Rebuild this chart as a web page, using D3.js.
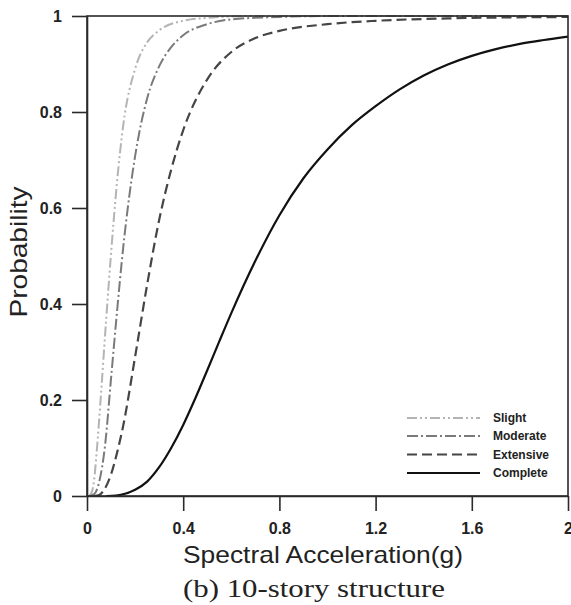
<!DOCTYPE html>
<html>
<head>
<meta charset="utf-8">
<script src="https://cdn.jsdelivr.net/npm/d3@7/dist/d3.min.js"></script>
<style>
  html, body { margin: 0; padding: 0; background: #fff; }
  svg { display: block; }
</style>
</head>
<body>
<svg id="chart" width="571" height="605"></svg>
<script>
// ---- Data ----
const seriesNames = ["Slight", "Moderate", "Extensive", "Complete"];

const slightX = [0.008, 0.02, 0.03, 0.04, 0.06, 0.08, 0.1, 0.125, 0.15, 0.2, 0.25, 0.3, 0.4, 0.5, 0.7, 2.0];
const slightP = [0, 0.008, 0.035, 0.09, 0.225, 0.37, 0.505, 0.655, 0.77, 0.89, 0.945, 0.97, 0.99, 0.996, 1, 1];

const moderateX = [0.012, 0.03, 0.05, 0.075, 0.1, 0.125, 0.15, 0.2, 0.25, 0.3, 0.35, 0.4, 0.5, 0.6, 0.8, 1.0, 2.0];
const moderateP = [0, 0.004, 0.028, 0.105, 0.245, 0.385, 0.515, 0.708, 0.828, 0.895, 0.935, 0.96, 0.983, 0.993, 0.998, 1, 1];

const extensiveX = [0.03, 0.05, 0.07, 0.1, 0.125, 0.15, 0.2, 0.25, 0.3, 0.35, 0.4, 0.5, 0.6, 0.7, 0.8, 1.0, 1.2, 1.5, 2.0];
const extensiveP = [0, 0.002, 0.012, 0.045, 0.09, 0.145, 0.29, 0.44, 0.575, 0.68, 0.762, 0.868, 0.925, 0.954, 0.969, 0.983, 0.99, 0.995, 0.998];

const completeX = [0.08, 0.12, 0.2, 0.25, 0.3, 0.35, 0.4, 0.45, 0.5, 0.55, 0.6, 0.7, 0.8, 0.9, 1.0, 1.1, 1.2, 1.3, 1.4, 1.5, 1.6, 1.7, 1.8, 1.9, 2.0];
const completeP = [0, 0.001, 0.013, 0.03, 0.06, 0.10, 0.148, 0.203, 0.262, 0.322, 0.381, 0.49, 0.585, 0.662, 0.722, 0.772, 0.812, 0.847, 0.876, 0.899, 0.917, 0.931, 0.942, 0.950, 0.957];

const xTicks = [0, 0.4, 0.8, 1.2, 1.6, 2];
const xTickLabels = ["0", "0.4", "0.8", "1.2", "1.6", "2"];
const yTicks = [0, 0.2, 0.4, 0.6, 0.8, 1];
const yTickLabels = ["0", "0.2", "0.4", "0.6", "0.8", "1"];

const xTitle = "Spectral Acceleration(g)";
const yTitle = "Probability";
const caption = "(b) 10-story structure";

// ---- Styles ----
const styles = {
  Slight:    { color: "#b4b4b4", dash: "10,3,2,3,2,3", width: 2 },
  Moderate:  { color: "#7a7a7a", dash: "11,3,2,3", width: 2 },
  Extensive: { color: "#454545", dash: "10,5", width: 2.2 },
  Complete:  { color: "#111111", dash: null, width: 2.2 }
};

const series = [
  { name: "Slight", xs: slightX, ps: slightP },
  { name: "Moderate", xs: moderateX, ps: moderateP },
  { name: "Extensive", xs: extensiveX, ps: extensiveP },
  { name: "Complete", xs: completeX, ps: completeP }
];

// ---- Layout ----
const plotL = 87, plotR = 568, plotT = 16, plotB = 496;

const svg = d3.select("#chart");
const x = d3.scaleLinear().domain([0, 2]).range([plotL, plotR]);
const y = d3.scaleLinear().domain([0, 1]).range([plotB, plotT]);

svg.append("defs").append("clipPath").attr("id", "plotclip")
  .append("rect").attr("x", plotL).attr("y", plotT - 2).attr("width", plotR - plotL).attr("height", plotB - plotT + 2);

// curves
const line = d3.line().x(d => x(d[0])).y(d => y(d[1])).curve(d3.curveMonotoneX);
const g = svg.append("g").attr("clip-path", "url(#plotclip)");
series.forEach(s => {
  const st = styles[s.name];
  const pts = s.xs.map((v, i) => [v, s.ps[i]]);
  g.append("path").datum(pts)
    .attr("d", line)
    .attr("fill", "none")
    .attr("stroke", st.color)
    .attr("stroke-width", st.width)
    .attr("stroke-dasharray", st.dash);
});

// frame
const axisColor = "#2a2a2a";
svg.append("rect")
  .attr("x", plotL).attr("y", plotT).attr("width", plotR - plotL).attr("height", plotB - plotT)
  .attr("fill", "none").attr("stroke", axisColor).attr("stroke-width", 1.6);

// axes
const xAxis = d3.axisBottom(x).tickValues(xTicks)
  .tickFormat((d, i) => xTickLabels[i]).tickSize(15).tickPadding(12).tickSizeOuter(0);
const yAxis = d3.axisLeft(y).tickValues(yTicks)
  .tickFormat((d, i) => yTickLabels[i]).tickSize(15).tickPadding(10).tickSizeOuter(0);

const gx = svg.append("g").attr("transform", `translate(0,${plotB})`).call(xAxis);
const gy = svg.append("g").attr("transform", `translate(${plotL},0)`).call(yAxis);
[gx, gy].forEach(a => {
  a.select(".domain").attr("stroke", axisColor).attr("stroke-width", 1.6);
  a.selectAll(".tick line").attr("stroke", axisColor).attr("stroke-width", 1.6);
  a.selectAll(".tick text")
    .attr("fill", "#222")
    .style("font-family", "'Liberation Sans', Arial, sans-serif")
    .style("font-weight", "bold")
    .style("font-size", "16px");
});

// titles
svg.append("text")
  .attr("x", (183 + 463) / 2).attr("y", 563)
  .attr("text-anchor", "middle")
  .attr("textLength", 280).attr("lengthAdjust", "spacingAndGlyphs")
  .style("font-family", "'Liberation Sans', Arial, sans-serif")
  .style("font-size", "24px").attr("fill", "#222")
  .text(xTitle);

svg.append("text")
  .attr("transform", "translate(27,252) rotate(-90)")
  .attr("text-anchor", "middle")
  .attr("textLength", 131).attr("lengthAdjust", "spacingAndGlyphs")
  .style("font-family", "'Liberation Sans', Arial, sans-serif")
  .style("font-size", "24px").attr("fill", "#222")
  .text(yTitle);

svg.append("text")
  .attr("x", (183 + 445) / 2).attr("y", 597)
  .attr("text-anchor", "middle")
  .attr("textLength", 262).attr("lengthAdjust", "spacingAndGlyphs")
  .style("font-family", "'Liberation Serif', 'Times New Roman', serif")
  .style("font-size", "25px").attr("fill", "#222")
  .text(caption);

// legend
const legX1 = 407, legX2 = 480, legTextX = 493;
const legBase = [422, 440, 458.5, 477];
seriesNames.forEach((name, i) => {
  const st = styles[name];
  svg.append("line")
    .attr("x1", legX1).attr("x2", legX2)
    .attr("y1", legBase[i] - 4).attr("y2", legBase[i] - 4)
    .attr("stroke", st.color).attr("stroke-width", st.width)
    .attr("stroke-dasharray", st.dash);
  svg.append("text")
    .attr("x", legTextX).attr("y", legBase[i])
    .style("font-family", "'Liberation Sans', Arial, sans-serif")
    .style("font-weight", "bold").style("font-size", "12px")
    .attr("fill", "#222")
    .text(name);
});
</script>
</body>
</html>
